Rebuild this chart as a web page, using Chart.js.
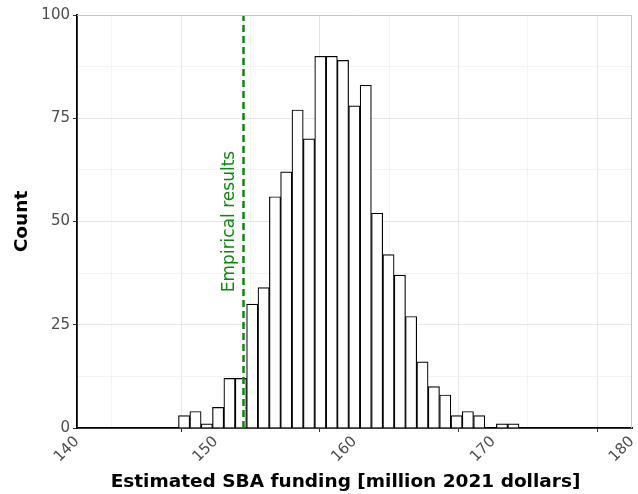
<!DOCTYPE html>
<html lang="en">
<head>
    <meta charset="UTF-8">
    <title>Estimated SBA funding</title>
    <style>
        body {
            margin: 0;
            background: #ffffff;
        }
        #chart-container {
            width: 638px;
            height: 494px;
        }
    </style>
</head>
<body>
    <div id="chart-container">
        <canvas id="hist-chart" width="638" height="494"></canvas>
    </div>

    <script src="https://cdn.jsdelivr.net/npm/chart.js"></script>

    <script>
        // bin centres (million 2021 dollars)
        const binCenters = [147.72, 148.54, 149.36, 150.17, 150.99, 151.81, 152.63, 153.45, 154.27, 155.08,
                            155.90, 156.72, 157.54, 158.36, 159.17, 159.99, 160.81, 161.63, 162.45, 163.27,
                            164.08, 164.90, 165.72, 166.54, 167.36, 168.17, 168.99, 169.81, 170.63, 171.45];
        const counts = [3, 4, 1, 5, 12, 12, 30, 34, 56, 62,
                        77, 70, 90, 90, 89, 78, 83, 52, 42, 37,
                        27, 16, 10, 8, 3, 4, 3, 0, 1, 1];
        const empiricalValue = 152;
        const empiricalLabel = 'Empirical results';
        const xTitle = 'Estimated SBA funding [million 2021 dollars]';
        const xTicks = [140, 150, 160, 170, 180];
        const yTicks = [0, 25, 50, 75, 100];

        const fontFamily = '"DejaVu Sans", sans-serif';
        const green = '#0a8a0a';

        // 패널 테두리 + 세로 라벨 + x축 제목
        const extrasPlugin = {
            id: 'extras',
            afterDatasetsDraw(chart) {
                const { ctx, chartArea, scales } = chart;
                ctx.save();
                ctx.strokeStyle = '#c4c4c4';
                ctx.lineWidth = 1;
                ctx.beginPath();
                ctx.moveTo(chartArea.left, chartArea.top + 0.5);
                ctx.lineTo(chartArea.right - 0.5, chartArea.top + 0.5);
                ctx.lineTo(chartArea.right - 0.5, chartArea.bottom);
                ctx.stroke();

                // x축 제목 (패널 중심보다 살짝 왼쪽)
                ctx.fillStyle = '#000000';
                ctx.font = 'bold 18.5px ' + fontFamily;
                ctx.textAlign = 'center';
                ctx.textBaseline = 'middle';
                ctx.fillText(xTitle, (chartArea.left + chartArea.right) / 2 - 9, 482);

                const px = scales.x.getPixelForValue(empiricalValue);
                const py = scales.y.getPixelForValue(50);
                ctx.translate(px - 14, py);
                ctx.rotate(-Math.PI / 2);
                ctx.fillStyle = green;
                ctx.font = '17px ' + fontFamily;
                ctx.fillText(empiricalLabel, 0, 0);
                ctx.restore();
            }
        };

        const ctx = document.getElementById('hist-chart').getContext('2d');
        new Chart(ctx, {
            type: 'bar',
            data: {
                datasets: [{
                    type: 'line',
                    label: empiricalLabel,
                    data: [{ x: empiricalValue, y: 0 }, { x: empiricalValue, y: 100 }],
                    borderColor: green,
                    borderWidth: 2.5,
                    borderDash: [7, 4],
                    pointRadius: 0,
                    fill: false,
                    order: 0
                }, {
                    label: 'Count',
                    data: binCenters.map((x, i) => ({ x: x, y: counts[i] })),
                    backgroundColor: '#ffffff',
                    borderColor: '#000000',
                    borderWidth: 1.2,
                    barPercentage: 1,
                    categoryPercentage: 1,
                    order: 1
                }]
            },
            options: {
                responsive: false,
                animation: false,
                devicePixelRatio: 1,
                layout: {
                    padding: { top: 15, right: 6, left: 0, bottom: 0 }
                },
                plugins: {
                    legend: { display: false },
                    tooltip: { enabled: false }
                },
                scales: {
                    x: {
                        type: 'linear',
                        min: 140,
                        max: 180,
                        offset: false,
                        afterBuildTicks(scale) {
                            const t = [];
                            for (let v = 140; v <= 180; v += 5) t.push({ value: v });
                            scale.ticks = t;
                        },
                        afterFit(scale) {
                            scale.height = 66;
                            scale.paddingLeft = 0;
                            scale.paddingRight = 0;
                        },
                        border: { display: true, color: '#000000', width: 1.8 },
                        grid: {
                            color: c => (c.tick && c.tick.value % 10 === 0) ? '#e6e6e6' : '#f3f3f3',
                            tickColor: c => (c.tick && c.tick.value % 10 === 0) ? '#333333' : 'rgba(0,0,0,0)',
                            tickLength: 4
                        },
                        ticks: {
                            autoSkip: false,
                            minRotation: 45,
                            maxRotation: 45,
                            padding: 1,
                            color: '#4d4d4d',
                            font: { family: fontFamily, size: 15 },
                            callback: v => xTicks.includes(v) ? String(v) : ''
                        },
                        title: { display: false }
                    },
                    y: {
                        min: 0,
                        max: 100,
                        afterBuildTicks(scale) {
                            const t = [];
                            for (let v = 0; v <= 100; v += 12.5) t.push({ value: v });
                            scale.ticks = t;
                        },
                        afterFit(scale) {
                            scale.width = 77;
                            scale.paddingTop = 0;
                            scale.paddingBottom = 0;
                        },
                        border: { display: true, color: '#000000', width: 1.8 },
                        grid: {
                            color: c => (c.tick && c.tick.value % 25 === 0) ? '#e6e6e6' : '#f3f3f3',
                            tickColor: c => (c.tick && c.tick.value % 25 === 0) ? '#333333' : 'rgba(0,0,0,0)',
                            tickLength: 4
                        },
                        ticks: {
                            autoSkip: false,
                            padding: 3,
                            color: '#4d4d4d',
                            font: { family: fontFamily, size: 15 },
                            callback: v => yTicks.includes(v) ? String(v) : ''
                        },
                        title: {
                            display: true,
                            text: 'Count',
                            color: '#000000',
                            font: { family: fontFamily, size: 18.5, weight: 'bold' },
                            padding: { top: 11, bottom: 0 }
                        }
                    }
                }
            },
            plugins: [extrasPlugin]
        });
    </script>
</body>
</html>
